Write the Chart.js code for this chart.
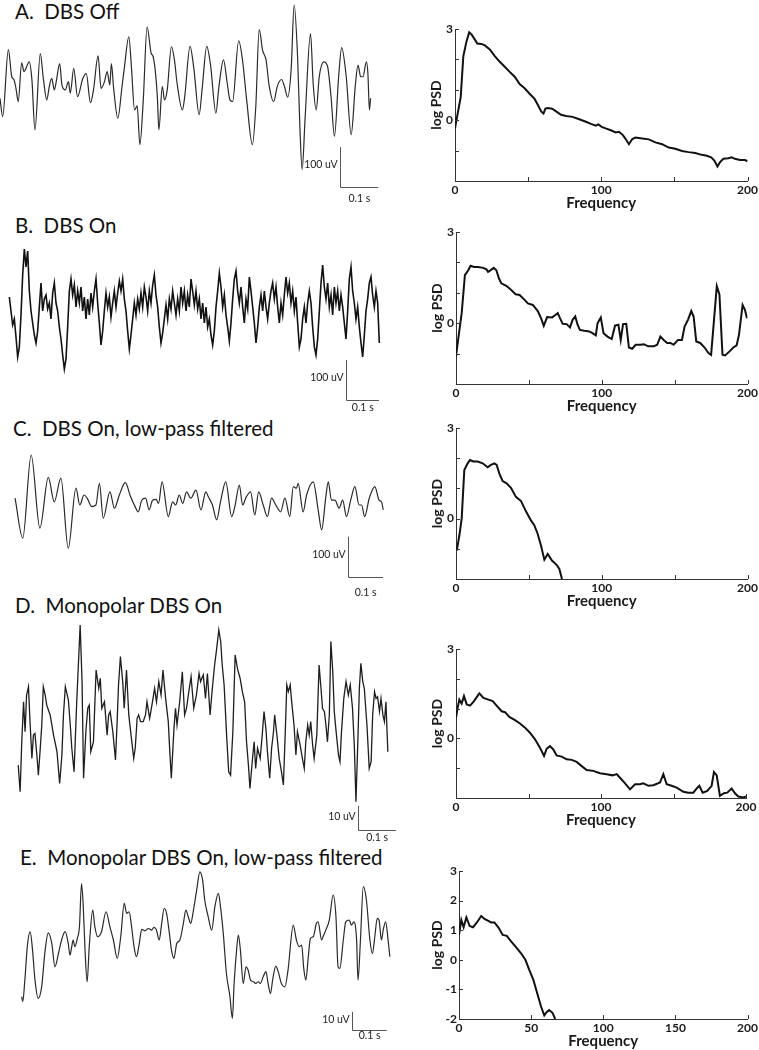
<!DOCTYPE html>
<html>
<head>
<meta charset="utf-8">
<title>DBS recordings and power spectra</title>
<script src="https://cdn.jsdelivr.net/npm/chart.js@4.4.1/dist/chart.umd.min.js"></script>
<style>
  body { margin: 0; background: #fff; width: 759px; height: 1050px; position: relative; overflow: hidden; font-family: Lato, "Open Sans", sans-serif; }
  canvas { position: absolute; }
  .panel-title { position: absolute; font-size: 20.5px; line-height: 20px; color: #111; white-space: pre; }
</style>
</head>
<body>
<div class="panel-title" style="left:15px; top:1px">A.  DBS Off</div>
<div class="panel-title" style="left:15px; top:215px">B.  DBS On</div>
<div class="panel-title" style="left:13px; top:418px">C.  DBS On, low-pass filtered</div>
<div class="panel-title" style="left:15px; top:595px">D.  Monopolar DBS On</div>
<div class="panel-title" style="left:20px; top:847px">E.  Monopolar DBS On, low-pass filtered</div>

<canvas id="traceA" width="385" height="205" style="left:0; top:0"></canvas>
<canvas id="traceB" width="385" height="180" style="left:0; top:235px"></canvas>
<canvas id="traceC" width="385" height="155" style="left:0; top:450px"></canvas>
<canvas id="traceD" width="400" height="227" style="left:0; top:618px"></canvas>
<canvas id="traceE" width="400" height="180" style="left:0; top:868px"></canvas>

<canvas id="psdA" width="332" height="193" style="left:428px; top:19px"></canvas>
<canvas id="psdB" width="331" height="193" style="left:429px; top:222px"></canvas>
<canvas id="psdC" width="331" height="192" style="left:429px; top:418px"></canvas>
<canvas id="psdD" width="331" height="190" style="left:429px; top:639px"></canvas>
<canvas id="psdE" width="331" height="189" style="left:429px; top:861px"></canvas>

<script>
// ---- traces: time (ms) and amplitude (uV) ----
const traceATime = [0,7,22,31,37,42,48,57,63,77,84,92,106,114,123,130,136,143,148,157,163,172,180,185,194,204,218,227,238,246,258,266,275,282,289,293,299,310,321,327,339,346,354,361,368,377,387,398,403,414,418,427,433,440,451,459,466,480,486,500,510,524,532,544,554,568,576,588,598,605,612,628,638,649,664,673,682,691,700,708,720,730,741,748,757,766,774,783,789,795,803,817,824,832,840,852,862,871,880,891,899,911,924,935,942,949,955,964,968,972,975];
const traceAUv = [-25,-71,97,29,21,0,-33,64,42,66,21,-104,87,25,-29,6,25,-4,17,62,8,-4,17,-12,50,-21,25,37,-36,-4,81,0,17,42,8,62,0,-75,4,50,129,50,-54,-44,-141,-29,154,87,79,-21,-104,4,-29,-4,104,71,12,-54,-21,105,50,-66,0,105,58,-62,4,71,12,-29,-33,119,71,-29,-141,-46,147,95,71,8,-33,6,22,6,-22,46,208,79,-95,-203,-71,137,12,-54,29,66,54,-21,-120,29,102,29,-116,8,58,29,29,66,37,-54,-25];

// B is sampled every 5 ms from 28 ms
const traceBStartMs = 28;
const traceBStepMs = 5;
const traceBUv = [45,10,-25,-10,-55,-105,-80,0,100,165,120,160,60,10,-20,-50,-70,-40,20,80,10,40,50,15,30,-10,55,80,30,10,-30,-60,-100,-135,-110,-30,60,90,50,75,20,60,30,70,10,45,-10,40,0,55,20,60,90,30,-20,-75,-40,10,55,20,45,-5,30,60,20,55,85,60,90,40,10,-40,-85,-50,-10,30,0,40,15,55,20,70,45,10,60,30,75,100,50,20,-30,-70,-45,-10,25,-10,40,15,60,30,0,40,10,70,30,60,10,50,20,90,60,25,60,15,40,-10,30,-20,20,-30,-10,-50,-75,-40,20,60,105,70,20,50,0,-30,-65,-20,40,90,110,60,30,70,20,-20,40,15,95,60,20,-20,-70,-30,20,50,10,60,20,-10,30,60,80,40,70,20,-20,30,0,50,95,55,80,30,60,10,45,-20,-80,-60,-10,20,-20,30,60,30,-30,-80,-100,-60,10,80,125,70,40,80,20,50,0,70,30,60,10,50,20,-20,-60,10,90,120,60,30,-10,20,-30,-70,-105,-50,10,40,80,95,50,20,60,30,-70];

const traceCTime = [43,65,89,114,138,155,174,195,217,228,240,249,262,274,284,295,314,327,341,358,373,386,395,405,416,426,436,446,453,463,481,493,502,512,522,533,545,560,574,588,595,607,619,630,645,662,671,684,693,704,716,728,739,752,764,776,788,802,814,828,838,847,852,866,876,895,909,919,931,938,947,957,969,979,990,1002,1014,1026,1033,1042,1055,1071,1083,1090,1095];
const traceCUv = [17,-83,125,-58,69,8,67,-108,42,0,25,17,-4,0,54,-33,33,-8,25,56,21,-4,-17,12,17,-12,12,14,4,58,-29,8,0,25,4,33,17,37,-12,33,21,0,-37,8,58,-29,-4,50,0,21,33,-25,33,0,-29,17,0,-17,17,-29,46,42,54,-17,25,58,-12,-62,21,58,12,12,-8,12,-29,12,46,0,0,-29,17,46,12,8,-12];

const traceDTime = [48,53,57,62,66,70,75,79,84,88,92,97,101,106,110,114,119,123,132,141,150,157,163,167,172,180,185,189,195,202,211,216,220,226,231,235,239,246,253,260,264,268,275,282,286,290,297,304,308,312,317,323,327,333,339,345,352,356,361,365,370,377,383,387,394,400,407,412,418,424,429,436,443,447,451,458,462,466,473,480,486,491,497,503,510,517,524,528,535,541,546,553,559,565,570,576,581,585,590,597,602,607,613,619,625,632,638,644,649,654,658,664,669,673,678,685,691,695,700,704,710,715,720,723,729,735,741,746,751,755,759,764,767,774,779,783,790,796,801,805,810,814,818,823,827,834,840,845,849,854,858,862,867,871,876,880,884,891,895,899,905,911,917,922,928,933,937,942,946,950,955,959,966,972,977,981,986,990,994,999,1003,1008,1012,1016,1021];
const traceDUv = [-16.7,-27.8,-8.3,9.7,-2.8,12.5,16.0,1.4,-13.9,-4.2,-3.5,-12.5,-20.9,-9.7,0,16.0,12.5,8.3,4.2,-4.2,-11.1,-24.3,-12.5,4.2,16.0,10.4,0,-9.7,-19.5,9.7,41.7,18.1,-22.2,-2.8,7.0,8.3,-11.1,-7.0,22.9,15.3,19.5,7.0,9.7,-4.2,4.2,5.6,-2.8,-14.6,0,16.7,28.5,18.1,7.0,22.9,4.2,-4.2,-13.9,-9.7,2.8,4.2,1.4,1.4,4.2,9.7,2.8,8.3,15.3,9.7,18.1,12.5,22.9,11.1,1.4,-11.1,-22.2,-1.4,7.0,0,9.7,22.2,4.2,7.0,13.9,20.2,7.0,12.5,21.5,18.1,20.9,11.1,21.5,4.2,15.3,25.0,31.3,39.6,34.8,25.0,16.7,-5.6,-19.5,-20.9,-2.8,29.2,23.6,19.5,13.9,9.7,-7.0,-16.7,-26.4,-15.3,-7.0,-18.1,-9.7,-13.9,-2.8,5.6,-1.4,-11.1,-22.2,-9.7,-2.8,4.2,-4.2,-13.9,-19.5,-25.0,-2.8,16.7,13.9,16.7,11.1,0,-12.5,-2.8,-8.3,-13.9,-18.1,-7.0,0,-4.2,1.4,-8.3,-13.9,-4.2,25.0,15.3,7.0,5.6,0,-7.0,4.2,34.8,22.2,5.6,-1.4,-12.5,-15.3,-2.8,11.1,18.1,12.5,16.7,7.0,-9.7,-32.0,-7.0,15.3,25.7,18.1,15.3,0,-18.1,-15.3,4.2,13.9,11.1,11.8,5.6,11.1,4.2,1.4,9.7,-11.1];

const traceETime = [62,65,71,78,86,93,100,109,119,129,138,148,157,167,176,186,195,200,205,209,214,221,227,233,238,243,249,255,265,271,279,290,303,314,324,335,345,355,362,369,376,383,390,398,405,414,424,433,440,447,455,462,469,476,484,490,497,505,514,524,531,538,545,552,562,571,579,585,595,605,614,624,630,638,647,657,664,669,676,681,687,695,703,709,716,724,731,738,744,752,760,766,773,779,788,795,804,814,823,838,847,855,862,868,874,881,887,895,904,909,919,923,931,941,952,960,966,971,981,988,998,1004,1011,1019,1023,1030,1038,1047,1057,1064,1071,1078,1083,1090,1095,1102,1109,1114];
const traceEUv = [-25.9,-28.7,-16.7,1.9,10.2,0,-16.7,-26.8,-20.4,0,9.6,3.7,-9.3,-1.9,5.6,10.2,3.7,-2.8,1.9,5.6,1.9,6.5,13.0,37.0,24.1,0,-17.6,1.9,22.2,13.0,7.4,10.2,21.3,13.0,5.6,-4.6,7.4,25.9,20.4,21.3,13.0,1.9,-3.7,3.7,11.5,10.7,12.0,11.1,12.6,11.1,5.6,14.8,23.1,20.4,9.3,0,-4.6,3.7,5.6,14.8,22.2,18.5,14.8,21.3,33.3,43.5,38.9,27.8,18.5,11.1,24.1,31.5,24.1,9.3,-13.0,-25.9,-37.9,-18.5,0,8.3,0,-18.5,-9.3,-11.1,-16.7,-17.6,-18.5,-17.6,-18.5,-14.8,-12.0,-18.5,-24.1,-16.7,-8.9,-12.0,-18.5,-20.4,-11.1,13.9,5.6,1.9,2.8,-10.2,-16.7,-3.7,6.5,7.4,14.8,15.7,5.6,7.4,11.1,16.7,30.5,18.5,-9.3,-10.2,5.6,15.7,16.7,13.9,15.7,5.6,-16.7,5.6,35.2,27.8,5.6,-1.9,7.4,17.6,16.7,5.6,11.1,15.7,5.6,-3.7];

// ---- power spectra: frequency (Hz) and log PSD ----
const psdAFreq = [0,1.6,3.9,5.7,7.9,9.7,11.3,13.6,15.2,18.1,20.4,23.8,27.2,30.6,34.0,37.4,40.8,44.2,47.6,51,54.4,56.6,58.9,60.5,61.8,63.4,66.4,69.1,72.5,75.9,80.4,84.9,89.5,92.9,96.3,98,100.3,103,106.5,109.9,112.1,114.8,117.1,118.9,121.2,123.4,128,132.5,137,141.6,146.1,150.6,155.2,159.7,164.2,168.7,172.1,175.1,177.3,179.4,181.2,183.5,186.9,189.1,191.4,194.8,198.2,200];
const psdALog = [-0.27,0.16,0.76,2.11,2.6,2.89,2.82,2.65,2.52,2.51,2.46,2.33,2.11,1.92,1.76,1.59,1.43,1.19,1.05,0.87,0.70,0.51,0.29,0.22,0.38,0.40,0.38,0.29,0.18,0.14,0.11,0.03,-0.05,-0.12,-0.18,-0.14,-0.22,-0.27,-0.33,-0.40,-0.38,-0.49,-0.65,-0.79,-0.62,-0.57,-0.60,-0.63,-0.73,-0.79,-0.90,-0.94,-1.01,-1.05,-1.08,-1.14,-1.17,-1.22,-1.33,-1.52,-1.38,-1.27,-1.25,-1.22,-1.27,-1.31,-1.31,-1.35];

const psdBFreq = [0,1.6,3.9,6.1,8.4,10,12.3,15.2,18.6,20.9,22,23.6,25.9,27.7,29.5,31.1,34.5,37.9,40.9,43.6,46.4,49.3,52.7,56.1,58.4,60.2,62.5,65.9,68.2,69.8,71.4,73.2,75.9,78.2,80,81.8,83.4,85,88,91.4,93.6,95.9,97.1,99.3,101.2,103.9,106.8,109.1,111.4,113,114.6,116.8,118.6,120.9,123.2,126.6,128.9,131.8,135.7,138,140.2,142.5,144.8,147.1,149.3,152.3,155,156.8,159.1,161.4,163,164.8,167.5,170.5,173.2,175,178.9,180.7,182.8,184.6,188,190.2,192.5,194.1,196.6,198.2,199.6];
const psdBLog = [-1.09,-0.49,0.33,1.58,1.74,1.89,1.85,1.85,1.82,1.77,1.69,1.74,1.82,1.74,1.47,1.31,1.23,1.09,0.95,0.93,0.80,0.65,0.60,0.40,0.16,-0.09,0.20,0.19,0.27,0.33,0.16,-0.02,-0.03,-0.14,0.11,0.22,-0.05,-0.22,-0.25,-0.27,-0.33,-0.40,0,0.19,-0.33,-0.44,-0.52,-0.08,-0.05,-0.55,-0.03,-0.02,-0.80,-0.84,-0.71,-0.71,-0.69,-0.76,-0.76,-0.71,-0.44,-0.55,-0.65,-0.65,-0.71,-0.55,-0.55,-0.11,0.11,0.40,0.22,-0.60,-0.65,-0.80,-0.98,-1.04,1.22,0.95,-1.04,-1.06,-0.91,-0.80,-0.73,-0.38,0.60,0.44,0.16];

const psdCFreq = [0.5,2.3,3.9,5.7,8,9.6,11.9,14.9,18.3,21.7,24,26.3,27.9,29.7,32,34.7,37.7,41.1,44.6,48,51.4,53.7,56,58.3,60.6,62.9,65.8,69,70.9,72.7];
const psdCLog = [-1.06,-0.56,0,1.61,1.83,1.94,1.89,1.89,1.83,1.70,1.78,1.83,1.78,1.50,1.24,1.17,1.02,0.72,0.58,0.24,-0.06,-0.22,-0.5,-0.89,-1.36,-1.17,-1.39,-1.53,-1.67,-2.0];

const psdDFreq = [0,0.9,2.3,3.9,5.5,7.4,9.7,12.4,16.1,18.9,22.3,25.3,28,31.5,33.8,36.8,40.7,44.1,47.6,51,54.5,57.9,60.7,62.5,64.8,67.1,69.4,72.9,76.3,79.8,83.2,86.7,90.1,94.7,99.3,103.9,108,110.8,113.1,116.6,120,123.5,126.9,129.2,132.7,136.1,140.7,143,145.3,148.7,152.2,156.8,160.2,163.7,166,167.8,170.1,173.3,176.3,177.9,179.8,182,184.8,187.1,190.1,192.4,194.7,198.2,200];
const psdDLog = [0.69,0.97,1.30,1.17,1.42,1.14,1.10,1.25,1.51,1.36,1.30,1.25,1.10,0.91,0.88,0.72,0.61,0.50,0.36,0.19,-0.03,-0.31,-0.59,-0.35,-0.26,-0.37,-0.57,-0.61,-0.70,-0.72,-0.79,-0.93,-1.06,-1.09,-1.17,-1.20,-1.24,-1.20,-1.32,-1.51,-1.71,-1.54,-1.54,-1.51,-1.59,-1.57,-1.48,-1.20,-1.54,-1.59,-1.65,-1.79,-1.82,-1.82,-1.68,-1.59,-1.82,-1.76,-1.59,-1.13,-1.24,-1.93,-1.84,-1.82,-1.68,-1.84,-1.95,-1.98,-1.95];

const psdEFreq = [0,1.6,3.2,5.1,7.4,9.7,12.4,15.4,17.7,20,22.3,24.6,27.6,30.3,33.1,36.1,39.5,43,46,48.7,51.5,54.5,56.8,59.1,60.7,62.5,64.8,66.7];
const psdELog = [0.84,1.35,1.10,1.43,1.14,1.10,1.26,1.48,1.38,1.32,1.26,1.26,1.07,0.84,0.81,0.62,0.43,0.22,0,-0.34,-0.67,-1.18,-1.57,-1.88,-1.77,-1.70,-1.79,-2.0];

const freqTicks = [0, 50, 100, 150, 200];
const psdTicks = [-2, -1, 0, 1, 2, 3];

Chart.defaults.font.family = 'Lato, "Open Sans", sans-serif';
Chart.defaults.color = '#1a1a1a';

function toPoints(xs, ys) {
    const n = Math.min(xs.length, ys.length);
    const pts = [];
    for (let i = 0; i < n; i++) pts.push({ x: xs[i], y: ys[i] });
    return pts;
}

// L-shaped calibration bar, placed in data units through the chart scales
const scaleBar = {
    id: 'scaleBar',
    afterDraw(chart, args, opts) {
        if (!opts || opts.t0 === undefined) return;
        const { ctx } = chart;
        const x = chart.scales.x, y = chart.scales.y;
        const px0 = Math.round(x.getPixelForValue(opts.t0)) + 0.5;
        const px1 = x.getPixelForValue(opts.t0 + opts.dt);
        const pyBase = Math.round(y.getPixelForValue(opts.v0)) + 0.5;
        const pyTop = y.getPixelForValue(opts.v0 + opts.dv);
        ctx.save();
        ctx.strokeStyle = '#555';
        ctx.lineWidth = 1;
        ctx.beginPath();
        ctx.moveTo(px0, pyTop);
        ctx.lineTo(px0, pyBase);
        ctx.lineTo(px1, pyBase);
        ctx.stroke();
        ctx.fillStyle = '#222';
        ctx.font = '10.5px Lato, "Open Sans", sans-serif';
        ctx.textBaseline = 'middle';
        ctx.textAlign = 'right';
        ctx.fillText(opts.vLabel, px0 - 3, y.getPixelForValue(opts.v0 + opts.dv * 0.55));
        ctx.textAlign = 'center';
        ctx.fillText(opts.tLabel, (px0 + px1) / 2, pyBase + opts.gap);
        ctx.restore();
    }
};

// matlab-style ticks pointing into the plot
const inwardTicks = {
    id: 'inwardTicks',
    afterDraw(chart) {
        const { ctx, chartArea: a } = chart;
        const x = chart.scales.x, y = chart.scales.y;
        ctx.save();
        ctx.strokeStyle = '#333';
        ctx.lineWidth = 1;
        ctx.beginPath();
        x.ticks.forEach(t => {
            const px = Math.round(x.getPixelForValue(t.value)) + 0.5;
            ctx.moveTo(px, a.bottom);
            ctx.lineTo(px, a.bottom - 4);
        });
        y.ticks.forEach(t => {
            const py = Math.round(y.getPixelForValue(t.value)) + 0.5;
            ctx.moveTo(a.left, py);
            ctx.lineTo(a.left + 4, py);
        });
        ctx.stroke();
        ctx.restore();
    }
};

function drawTrace(id, points, view, bar, look) {
    new Chart(document.getElementById(id), {
        type: 'line',
        data: {
            datasets: [{
                data: points,
                borderColor: look.color,
                borderWidth: look.width,
                pointRadius: 0,
                tension: look.smooth ? 0.4 : 0,
                cubicInterpolationMode: look.smooth ? 'monotone' : 'default'
            }]
        },
        options: {
            responsive: false,
            animation: false,
            events: [],
            layout: { padding: 0 },
            plugins: { legend: { display: false }, tooltip: { enabled: false }, scaleBar: bar },
            scales: {
                x: { type: 'linear', display: false, min: view.tMin, max: view.tMax },
                y: { type: 'linear', display: false, min: view.vMin, max: view.vMax }
            }
        },
        plugins: [scaleBar]
    });
}

function drawPsd(id, freq, logPsd, frame) {
    new Chart(document.getElementById(id), {
        type: 'line',
        data: {
            datasets: [{
                data: toPoints(freq, logPsd),
                borderColor: '#111',
                borderWidth: 2,
                pointRadius: 0,
                tension: 0
            }]
        },
        options: {
            responsive: false,
            animation: false,
            events: [],
            layout: { padding: { top: 10, right: frame.right, left: 0, bottom: 0 } },
            plugins: { legend: { display: false }, tooltip: { enabled: false } },
            scales: {
                x: {
                    type: 'linear', min: 0, max: 200,
                    grid: { display: false, drawTicks: false },
                    border: { display: true, color: '#333', width: 1 },
                    afterBuildTicks: s => { s.ticks = freqTicks.map(v => ({ value: v })); },
                    ticks: {
                        padding: 2, maxRotation: 0, autoSkip: false, color: '#1a1a1a',
                        font: { size: 12, weight: 'bold' },
                        callback: v => (frame.allLabels || v % 100 === 0) ? v : ''
                    },
                    title: { display: true, text: 'Frequency', color: '#1a1a1a', font: { size: 15, weight: 'bold' }, padding: 0 },
                    afterFit: s => { s.height = 31; }
                },
                y: {
                    type: 'linear', min: -2, max: 3,
                    grid: { display: false, drawTicks: false },
                    border: { display: true, color: '#333', width: 1 },
                    afterBuildTicks: s => { s.ticks = psdTicks.map(v => ({ value: v })); },
                    ticks: {
                        padding: 2, autoSkip: false, color: '#1a1a1a',
                        font: { size: 12, weight: 'bold' },
                        callback: v => (frame.allLabels || v === 3 || v === 0) ? v : ''
                    },
                    title: { display: true, text: 'log PSD', color: '#1a1a1a', font: { size: 14, weight: 'bold' }, padding: 0 },
                    afterFit: s => { s.width = frame.axisWidth; }
                }
            }
        },
        plugins: [inwardTicks]
    });
}

const traceBTime = traceBUv.map((v, i) => traceBStartMs + i * traceBStepMs);

const smoothLook = { color: '#2a2a2a', width: 1.2, smooth: true };
const noisyLook = { color: '#111', width: 1.6, smooth: false };

drawTrace('traceA', toPoints(traceATime, traceAUv),
    { tMin: 0, tMax: 1013, vMin: -292, vMax: 221 },
    { t0: 895, v0: -247, dt: 100, dv: 100, vLabel: '100 uV', tLabel: '0.1 s', gap: 11 }, smoothLook);
drawTrace('traceB', toPoints(traceBTime, traceBUv),
    { tMin: 0, tMax: 1155, vMin: -250, vMax: 200 },
    { t0: 1037, v0: -212.5, dt: 100, dv: 100, vLabel: '100 uV', tLabel: '0.1 s', gap: 7 }, noisyLook);
drawTrace('traceC', toPoints(traceCTime, traceCUv),
    { tMin: 0, tMax: 1100, vMin: -250, vMax: 137.5 },
    { t0: 994, v0: -179, dt: 100, dv: 100, vLabel: '100 uV', tLabel: '0.1 s', gap: 15 }, smoothLook);
drawTrace('traceD', toPoints(traceDTime, traceDUv),
    { tMin: 0, tMax: 1053, vMin: -50, vMax: 44.6 },
    { t0: 942, v0: -43.75, dt: 100, dv: 10, vLabel: '10 uV', tLabel: '0.1 s', gap: 7 }, { color: '#1e1e1e', width: 1.3, smooth: false });
drawTrace('traceE', toPoints(traceETime, traceEUv),
    { tMin: 0, tMax: 1143, vMin: -54.4, vMax: 45.6 },
    { t0: 1005, v0: -44.4, dt: 100, dv: 10, vLabel: '10 uV', tLabel: '0.1 s', gap: 5 }, smoothLook);

drawPsd('psdA', psdAFreq, psdALog, { axisWidth: 27, right: 11, allLabels: false });
drawPsd('psdB', psdBFreq, psdBLog, { axisWidth: 27, right: 11, allLabels: false });
drawPsd('psdC', psdCFreq, psdCLog, { axisWidth: 27, right: 12, allLabels: false });
drawPsd('psdD', psdDFreq, psdDLog, { axisWidth: 27, right: 14, allLabels: false });
drawPsd('psdE', psdEFreq, psdELog, { axisWidth: 30, right: 11, allLabels: true });
</script>
</body>
</html>
